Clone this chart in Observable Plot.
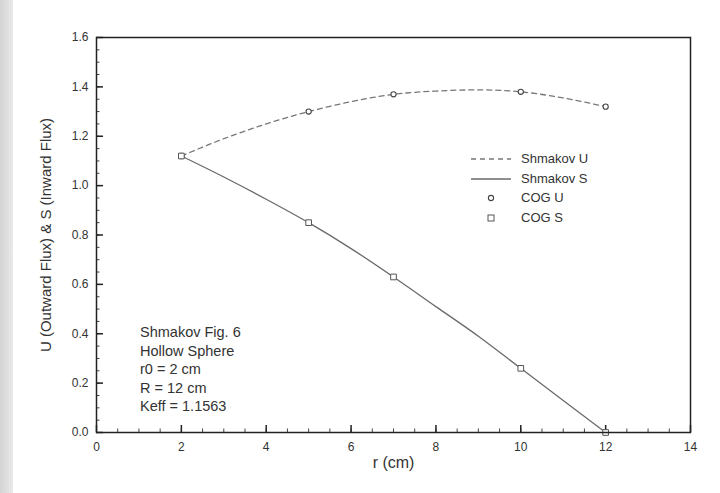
<!DOCTYPE html>
<html><head><meta charset="utf-8">
<script src="https://cdn.jsdelivr.net/npm/d3@7"></script>
<script src="https://cdn.jsdelivr.net/npm/@observablehq/plot@0.6"></script>
<style>
body{margin:0;background:#fff;}
#wrap{position:relative;width:720px;height:493px;overflow:hidden;font-family:"Liberation Sans",Arial,Helvetica,sans-serif;color:#333;}
#band{position:absolute;left:0;top:0;width:13px;height:493px;background:linear-gradient(to right,#d4d4d4,#e9e9e9);}
#chart{position:absolute;left:0;top:0;}
.leg{position:absolute;left:468px;top:149px;font-size:13px;}
.leg .row{position:relative;height:19.5px;line-height:19.5px;}
.leg svg{position:absolute;left:0;top:0;}
.leg span{position:absolute;left:53px;white-space:nowrap;}
.note{position:absolute;left:140px;top:323px;font-size:14.5px;line-height:18.5px;white-space:pre;}
</style></head>
<body>
<div id="wrap">
<div id="band"></div>
<div id="chart"></div>
<div class="leg" id="legend"></div>
<div class="note" id="note"></div>
</div>
<script>
// ---- data ----
const cogR = [2, 5, 7, 10, 12];
const cogU = [1.12, 1.30, 1.37, 1.38, 1.32];
const cogS = [1.12, 0.85, 0.63, 0.26, 0.0];
const curveR = [2, 3, 4, 5, 6, 7, 8, 9, 10, 11, 12];
const shmakovU = [1.12, 1.19, 1.25, 1.30, 1.34, 1.37, 1.383, 1.388, 1.38, 1.355, 1.32];
const shmakovS = [1.12, 1.035, 0.945, 0.85, 0.745, 0.63, 0.51, 0.39, 0.26, 0.13, 0.0];
const xTicks = [0, 2, 4, 6, 8, 10, 12, 14];
const xMinor = d3.range(0, 14.001, 0.5);
const yTicks = [0, 0.2, 0.4, 0.6, 0.8, 1.0, 1.2, 1.4, 1.6];
const yMinor = d3.range(0, 1.6001, 0.05);
const legendNames = ["Shmakov U", "Shmakov S", "COG U", "COG S"];
const noteLines = ["Shmakov Fig. 6", "Hollow Sphere", "r0 = 2 cm", "R = 12 cm", "Keff = 1.1563"];
const xTitle = "r (cm)";
const yTitle = "U (Outward Flux) & S (Inward Flux)";

const cog = cogR.map((r, i) => ({r, u: cogU[i], s: cogS[i]}));
const curve = curveR.map((r, i) => ({r, u: shmakovU[i], s: shmakovS[i]}));

const ink = "#333";
const chart = Plot.plot({
  width: 720, height: 493,
  marginLeft: 96, marginRight: 30, marginTop: 37, marginBottom: 61,
  style: {fontFamily: '"Liberation Sans", Arial, sans-serif', background: "transparent", color: ink},
  x: {domain: [0, 14]},
  y: {domain: [0, 1.6]},
  marks: [
    Plot.axisX(xMinor, {tickSize: -3.5, tickFormat: () => "", stroke: "#444", label: null}),
    Plot.axisY(yMinor, {tickSize: -3.5, tickFormat: () => "", stroke: "#444", label: null}),
    Plot.axisX(xTicks, {tickSize: -7, tickPadding: 17, tickFormat: d => String(d), fontSize: 12, stroke: "#222", strokeWidth: 1.5, label: null}),
    Plot.axisY(yTicks, {tickSize: -7, tickPadding: 15, tickFormat: d3.format(".1f"), fontSize: 12, stroke: "#222", strokeWidth: 1.5, label: null}),
    Plot.lineY(curve, {x: "r", y: "u", curve: "monotone-x", stroke: "#777", strokeWidth: 1.3, strokeDasharray: "5,4"}),
    Plot.lineY(curve, {x: "r", y: "s", curve: "monotone-x", stroke: "#6a6a6a", strokeWidth: 1.3}),
    Plot.dot(cog, {x: "r", y: "u", r: 2.6, stroke: "#444", fill: "white", strokeWidth: 1.1}),
    Plot.dot(cog, {x: "r", y: "s", r: 3.2, symbol: "square", stroke: "#555", fill: "white", strokeWidth: 1}),
    Plot.frame({stroke: "#222", strokeWidth: 1.5}),
    Plot.text([xTitle], {text: d => d, frameAnchor: "bottom", dy: 35, fontSize: 16, fill: ink}),
    Plot.text([yTitle], {text: d => d, frameAnchor: "left", textAnchor: "middle", dx: -50, rotate: -90, fontSize: 15, fill: ink})
  ]
});
document.getElementById("chart").appendChild(chart);

// legend
const lg = document.getElementById("legend");
legendNames.forEach((name, i) => {
  const row = document.createElement("div");
  row.className = "row";
  let sym = "";
  if (i === 0) sym = '<line x1="3" x2="43" y1="10" y2="10" stroke="#777" stroke-width="1.3" stroke-dasharray="5,4"/>';
  if (i === 1) sym = '<line x1="3" x2="43" y1="10" y2="10" stroke="#6a6a6a" stroke-width="1.3"/>';
  if (i === 2) sym = '<circle cx="23" cy="10" r="2.6" fill="white" stroke="#444" stroke-width="1.1"/>';
  if (i === 3) sym = '<rect x="20" y="7" width="6" height="6" fill="white" stroke="#555" stroke-width="1"/>';
  row.innerHTML = '<svg width="48" height="20">' + sym + '</svg><span>' + name + '</span>';
  lg.appendChild(row);
});
document.getElementById("note").textContent = noteLines.join("\n");
</script>
</body></html>
